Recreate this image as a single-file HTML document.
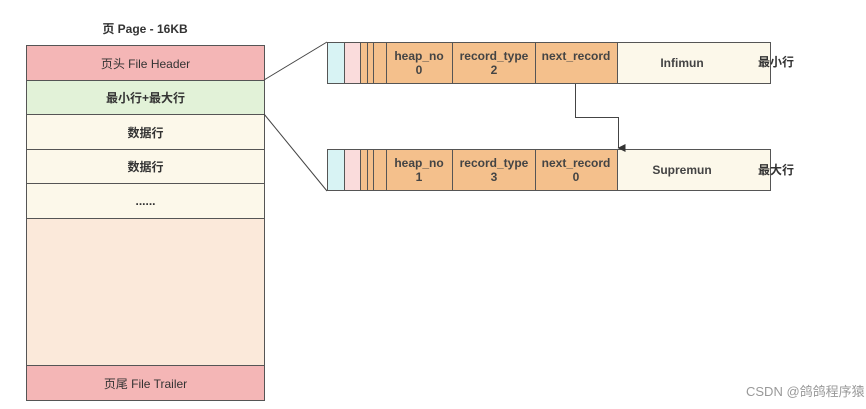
<!DOCTYPE html>
<html><head><meta charset="utf-8"><style>
body{margin:0;background:#fff;width:866px;height:409px;overflow:hidden;position:relative;font-family:"Liberation Sans","Noto Sans CJK SC",sans-serif;color:#333;}
.a{position:absolute;box-sizing:border-box;}
.r{border:1px solid #555;display:flex;align-items:center;justify-content:center;font-size:12px;}
.b{font-weight:bold;}
</style></head><body>
<div class="a b" style="left:26px;top:20px;width:238px;text-align:center;font-size:12px;">页 Page - 16KB</div>
<div class="a r" style="left:26px;top:45px;width:239px;height:36px;background:#f4b6b6;">页头 File Header</div>
<div class="a r b" style="left:26px;top:80px;width:239px;height:35px;background:#e2f2d8;">最小行+最大行</div>
<div class="a r b" style="left:26px;top:114px;width:239px;height:36px;background:#fcf8ea;">数据行</div>
<div class="a r b" style="left:26px;top:149px;width:239px;height:35px;background:#fcf8ea;">数据行</div>
<div class="a r b" style="left:26px;top:183px;width:239px;height:36px;background:#fcf8ea;">......</div>
<div class="a r" style="left:26px;top:218px;width:239px;height:148px;background:#fbe9da;"></div>
<div class="a r" style="left:26px;top:365px;width:239px;height:36px;background:#f4b6b6;">页尾 File Trailer</div>

<svg class="a" style="left:0;top:0" width="866" height="409">
<defs><marker id="m" markerWidth="8" markerHeight="8" refX="4" refY="7" orient="auto" markerUnits="userSpaceOnUse"><path d="M0,0 L8,0 L4,8 z" fill="#333" transform="translate(0,0)"/></marker></defs>
<line x1="264" y1="80" x2="327" y2="42" stroke="#444"/>
<line x1="264" y1="114" x2="327" y2="191" stroke="#444"/>
<g id="rows" stroke="#555" stroke-width="1">
<rect x="327.5" y="42.5" width="17" height="41" fill="#d8f3f4"/>
<rect x="344.5" y="42.5" width="16" height="41" fill="#fadcdc"/>
<rect x="360.5" y="42.5" width="26" height="41" fill="#f4c08c"/>
<line x1="367.5" y1="42" x2="367.5" y2="84"/><line x1="373.5" y1="42" x2="373.5" y2="84"/>
<rect x="386.5" y="42.5" width="66" height="41" fill="#f4c08c"/>
<rect x="452.5" y="42.5" width="83" height="41" fill="#f4c08c"/>
<rect x="535.5" y="42.5" width="82" height="41" fill="#f4c08c"/>
<rect x="617.5" y="42.5" width="153" height="41" fill="#fcf8ea"/>
<rect x="327.5" y="149.5" width="17" height="41" fill="#d8f3f4"/>
<rect x="344.5" y="149.5" width="16" height="41" fill="#fadcdc"/>
<rect x="360.5" y="149.5" width="26" height="41" fill="#f4c08c"/>
<line x1="367.5" y1="149" x2="367.5" y2="191"/><line x1="373.5" y1="149" x2="373.5" y2="191"/>
<rect x="386.5" y="149.5" width="66" height="41" fill="#f4c08c"/>
<rect x="452.5" y="149.5" width="83" height="41" fill="#f4c08c"/>
<rect x="535.5" y="149.5" width="82" height="41" fill="#f4c08c"/>
<rect x="617.5" y="149.5" width="153" height="41" fill="#fcf8ea"/>
</g>
<polyline points="575.5,84 575.5,117.5 618.5,117.5 618.5,148" fill="none" stroke="#444" marker-end="url(#m)"/>
<g font-size="12" font-weight="bold" fill="#444" text-anchor="middle" font-family="Liberation Sans, sans-serif">
<text x="419" y="60">heap_no</text><text x="419" y="74">0</text>
<text x="494" y="60">record_type</text><text x="494" y="74">2</text>
<text x="576" y="60">next_record</text>
<text x="682" y="67">Infimun</text>
<text x="419" y="167">heap_no</text><text x="419" y="181">1</text>
<text x="494" y="167">record_type</text><text x="494" y="181">3</text>
<text x="576" y="167">next_record</text><text x="576" y="181">0</text>
<text x="682" y="174">Supremun</text>
</g>
<g font-size="12" font-weight="bold" fill="#333" font-family="Liberation Sans, Noto Sans CJK SC, sans-serif">
<text x="758" y="66">最小行</text>
<text x="758" y="174">最大行</text>
</g>
<text x="746" y="396" font-size="13" fill="#999" font-family="Liberation Sans, Noto Sans CJK SC, sans-serif">CSDN @鸽鸽程序猿</text>
</svg>
</body></html>
